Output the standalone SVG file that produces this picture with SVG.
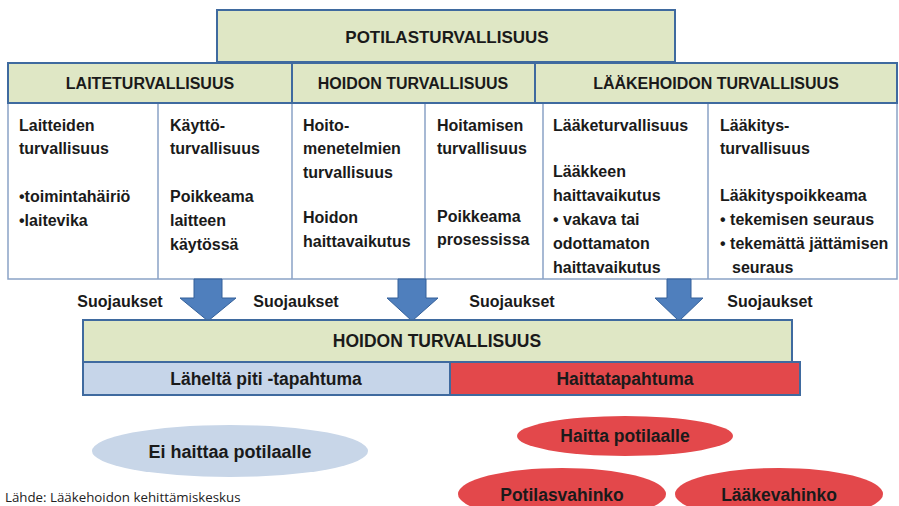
<svg xmlns="http://www.w3.org/2000/svg" width="899" height="506" viewBox="0 0 899 506">
<style>
.t{font-family:"Liberation Sans",Arial,sans-serif;font-weight:bold;fill:#1a1a1a}
.h{font-size:16px;text-anchor:middle}
.b{font-size:17.5px;text-anchor:middle}
.c{font-size:16px}
.m{text-anchor:middle}
.green{fill:#dfe7c5;stroke:#3f6a9f;stroke-width:2}
.arrow{fill:#4f7fbd;stroke:#34609a;stroke-width:1}
.src{font-family:"Open Sans","Liberation Sans",sans-serif;font-size:13.3px;fill:#222}
</style>
<rect width="899" height="506" fill="#ffffff"/>
<g id="potilasturvallisuus">
<rect class="green" x="217" y="10" width="458" height="52"/>
<text class="t m" x="447" y="43" font-size="17">POTILASTURVALLISUUS</text>
</g>
<g id="content-cells">
<rect x="8" y="103" width="889" height="176" fill="#fff" stroke="#8aa3c6" stroke-width="1.5"/>
<path d="M158 103V279M292 103V279M425 103V279M543 103V279M708 103V279" stroke="#8aa3c6" stroke-width="1.5"/>
</g>
<g id="laiteturvallisuus">
<rect class="green" x="8" y="63" width="284" height="40" stroke-width="1.5"/>
<text class="t h" x="150" y="89">LAITETURVALLISUUS</text>
<text class="t c" x="19"><tspan x="19" y="131">Laitteiden</tspan><tspan x="19" y="154">turvallisuus</tspan><tspan x="19" y="202">•toimintahäiriö</tspan><tspan x="19" y="226">•laitevika</tspan></text>
<text class="t c" x="170"><tspan x="170" y="131">Käyttö-</tspan><tspan x="170" y="154">turvallisuus</tspan><tspan x="170" y="202">Poikkeama</tspan><tspan x="170" y="226">laitteen</tspan><tspan x="170" y="250">käytössä</tspan></text>
</g>
<g id="lääkehoidon-turvallisuus">
<rect class="green" x="535" y="63" width="362" height="40" stroke-width="1.5"/>
<text class="t h" x="716" y="89">LÄÄKEHOIDON TURVALLISUUS</text>
<text class="t c" x="553"><tspan x="553" y="131">Lääketurvallisuus</tspan><tspan x="553" y="177">Lääkkeen</tspan><tspan x="553" y="201">haittavaikutus</tspan><tspan x="553" y="225">• vakava tai</tspan><tspan x="553" y="249">odottamaton</tspan><tspan x="553" y="273">haittavaikutus</tspan></text>
<text class="t c" x="720"><tspan x="720" y="131">Lääkitys-</tspan><tspan x="720" y="154">turvallisuus</tspan><tspan x="720" y="201">Lääkityspoikkeama</tspan><tspan x="720" y="225">• tekemisen seuraus</tspan><tspan x="720" y="249">• tekemättä jättämisen</tspan><tspan x="732" y="273">seuraus</tspan></text>
</g>
<g id="hoidon-turvallisuus-top">
<rect class="green" x="292" y="63" width="243" height="40" stroke="#2f5a8c" stroke-width="2.5"/>
<text class="t h" x="413" y="89">HOIDON TURVALLISUUS</text>
<text class="t c" x="303"><tspan x="303" y="131">Hoito-</tspan><tspan x="303" y="154">menetelmien</tspan><tspan x="303" y="178">turvallisuus</tspan><tspan x="303" y="223">Hoidon</tspan><tspan x="303" y="247">haittavaikutus</tspan></text>
<text class="t c" x="437"><tspan x="437" y="131">Hoitamisen</tspan><tspan x="437" y="154">turvallisuus</tspan><tspan x="437" y="222">Poikkeama</tspan><tspan x="437" y="245">prosessissa</tspan></text>
</g>
<g id="connectors">
<path class="arrow" d="M194 279H222V298H236L208 321L180 298H194Z"/>
<path class="arrow" d="M398 279H426V298H438L412 321L387 298H398Z"/>
<path class="arrow" d="M667 279H691V298H703L679 321L655 298H667Z"/>
</g>
<g id="suojaukset">
<text class="t m" x="120" y="307" font-size="16">Suojaukset</text>
<text class="t m" x="296" y="307" font-size="16">Suojaukset</text>
<text class="t m" x="512" y="307" font-size="16">Suojaukset</text>
<text class="t m" x="770" y="307" font-size="16">Suojaukset</text>
</g>
<g id="hoidon-turvallisuus-bottom">
<rect class="green" x="83" y="320" width="709" height="42"/>
<text class="t b" x="437" y="347">HOIDON TURVALLISUUS</text>
</g>
<g id="laheltapiti">
<rect x="83" y="362" width="367" height="33" fill="#c6d5e9" stroke="#3f6a9f" stroke-width="2"/>
<text class="t b" x="266" y="385">Läheltä piti -tapahtuma</text>
</g>
<g id="haittatapahtuma">
<rect x="450" y="362" width="350" height="33" fill="#e3484b" stroke="#3f6a9f" stroke-width="2"/>
<text class="t b" x="625" y="385">Haittatapahtuma</text>
</g>
<g id="ei-haittaa">
<ellipse cx="230" cy="451" rx="138" ry="26" fill="#c8d6e8"/>
<text class="t m" x="230" y="458" font-size="18">Ei haittaa potilaalle</text>
</g>
<g id="haitta-potilaalle">
<ellipse cx="625" cy="436" rx="108" ry="20" fill="#e3484b"/>
<text class="t b" x="625" y="442">Haitta potilaalle</text>
</g>
<g id="potilasvahinko">
<ellipse cx="562" cy="494" rx="104" ry="26" fill="#e3484b"/>
<text class="t b" x="562" y="501">Potilasvahinko</text>
</g>
<g id="laakevahinko">
<ellipse cx="779" cy="494" rx="104" ry="26" fill="#e3484b"/>
<text class="t b" x="779" y="501">Lääkevahinko</text>
</g>
<text class="src" x="5" y="502">Lähde: Lääkehoidon kehittämiskeskus</text>
</svg>
